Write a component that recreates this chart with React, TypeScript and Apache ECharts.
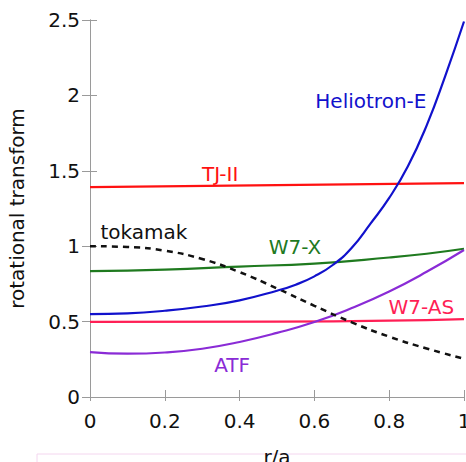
import React, { useEffect, useRef } from "react";
import * as echarts from "echarts";

const rHelio = [0, 0.1, 0.2, 0.3, 0.4, 0.5, 0.55, 0.6, 0.65, 0.7, 0.75, 0.8, 0.85, 0.9, 0.95, 1.0];
const vHelio = [0.55, 0.555, 0.572, 0.60, 0.641, 0.705, 0.745, 0.80, 0.877, 0.99, 1.15, 1.32, 1.53, 1.80, 2.13, 2.49];

const rTJ = [0, 0.5, 1.0];
const vTJ = [1.392, 1.405, 1.418];

const rW7X = [0, 0.2, 0.4, 0.6, 0.8, 0.9, 1.0];
const vW7X = [0.835, 0.845, 0.865, 0.885, 0.925, 0.95, 0.983];

const rTok = [0, 0.1, 0.2, 0.3, 0.4, 0.5, 0.6, 0.7, 0.8, 0.9, 1.0];
const vTok = [1.0, 0.995, 0.97, 0.915, 0.828, 0.72, 0.605, 0.495, 0.40, 0.322, 0.254];

const rW7AS = [0, 0.5, 0.8, 1.0];
const vW7AS = [0.498, 0.5, 0.506, 0.516];

const rATF = [0, 0.1, 0.2, 0.3, 0.4, 0.5, 0.6, 0.7, 0.8, 0.9, 1.0];
const vATF = [0.298, 0.287, 0.295, 0.32, 0.365, 0.425, 0.497, 0.59, 0.70, 0.83, 0.975];

const labelNames = ["Heliotron-E", "TJ-II", "tokamak", "W7-X", "W7-AS", "ATF"];
const labelR = [0.751, 0.348, 0.144, 0.548, 0.886, 0.38];
const labelV = [1.966, 1.476, 1.091, 0.992, 0.594, 0.21];
const labelColors = ["#1111cc", "#ff1111", "#111111", "#1f7a1f", "#ff1f55", "#8a2bd6"];

const FONT = "DejaVu Sans";

const pairs = (xs: number[], ys: number[]) => xs.map((x, i) => [x, ys[i]]);

export default function App() {
  const ref = useRef<HTMLDivElement>(null);
  useEffect(() => {
    if (!ref.current) return;
    const chart = echarts.init(ref.current, null, { renderer: "svg" });
    const axisLine = { show: true, lineStyle: { color: "#9a9a9a", width: 1 } };
    const mk = (name: string, xs: number[], ys: number[], color: string, dashed = false) => ({
      name,
      type: "line",
      data: pairs(xs, ys),
      smooth: 0.5,
      showSymbol: false,
      symbol: "none",
      lineStyle: dashed
        ? { color, width: 2.5, type: [6, 5] }
        : { color, width: 2.2 },
      z: 3,
    });
    chart.setOption({
      animation: false,
      backgroundColor: "#ffffff",
      grid: { left: 90, right: 2, top: 20, bottom: 65, outerBoundsMode: "none", containLabel: false },
      xAxis: [
        {
          type: "value",
          min: 0,
          max: 1,
          interval: 0.2,
          position: "bottom",
          name: "r/a",
          nameLocation: "middle",
          nameGap: 50,
          nameTextStyle: { fontFamily: FONT, fontSize: 20, color: "#111" },
          axisLine,
          axisTick: { show: true, length: 4, lineStyle: { color: "#9a9a9a" } },
          axisLabel: { fontFamily: FONT, fontSize: 20, color: "#111", margin: 14 },
          splitLine: { show: false },
        },
        {
          type: "value",
          min: 0,
          max: 1,
          interval: 0.2,
          position: "top",
          axisLine,
          axisTick: { show: true, length: 7, lineStyle: { color: "#9a9a9a" } },
          axisLabel: { show: false },
          splitLine: { show: false },
        },
      ],
      yAxis: [
        {
          type: "value",
          min: 0,
          max: 2.5,
          interval: 0.5,
          position: "left",
          name: "rotational transform",
          nameLocation: "middle",
          nameGap: 63,
          nameTextStyle: { fontFamily: FONT, fontSize: 20, color: "#111" },
          axisLine,
          axisTick: { show: true, length: 8, lineStyle: { color: "#9a9a9a" } },
          axisLabel: { fontFamily: FONT, fontSize: 20, color: "#111", margin: 10 },
          splitLine: { show: false },
        },
        {
          type: "value",
          min: 0,
          max: 2.5,
          interval: 0.5,
          position: "right",
          axisLine,
          axisTick: { show: true, length: 7, lineStyle: { color: "#9a9a9a" } },
          axisLabel: { show: false },
          splitLine: { show: false },
        },
      ],
      series: [
        mk("W7-AS", rW7AS, vW7AS, "#ff1f55"),
        mk("TJ-II", rTJ, vTJ, "#ff1111"),
        mk("W7-X", rW7X, vW7X, "#1f7a1f"),
        mk("ATF", rATF, vATF, "#8a2bd6"),
        mk("tokamak", rTok, vTok, "#111111", true),
        mk("Heliotron-E", rHelio, vHelio, "#1111cc"),
      ],
    });
    const texts = labelNames.map((name, i) => {
      const p = chart.convertToPixel({ gridIndex: 0 }, [labelR[i], labelV[i]]) as number[];
      return {
        type: "text",
        x: p[0],
        y: p[1],
        z: 10,
        style: {
          text: name,
          fill: labelColors[i],
          font: `20px "${FONT}"`,
          align: "center",
          verticalAlign: "middle",
        },
      };
    });
    chart.setOption({
      graphic: [
        {
          type: "rect",
          shape: { x: 37, y: 454, width: 440, height: 30 },
          style: { fill: "none", stroke: "#f4d6ef", lineWidth: 1 },
          z: 0,
        },
        ...texts,
      ],
    });
    return () => chart.dispose();
  }, []);
  return <div ref={ref} style={{ width: 466, height: 462, position: "absolute", left: 0, top: 0 }} />;
}
